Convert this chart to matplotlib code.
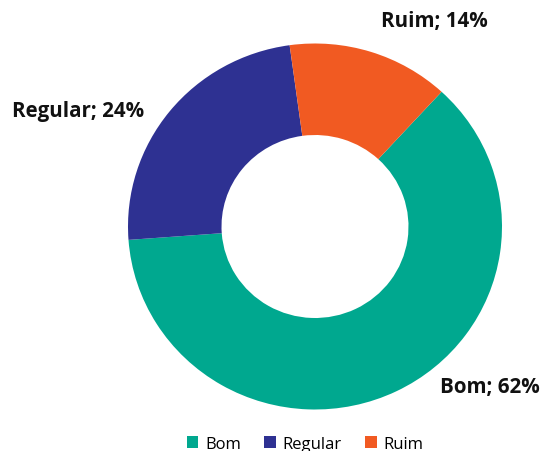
import matplotlib.pyplot as plt
from matplotlib.patches import Patch

categories = ["Bom", "Regular", "Ruim"]
shares = [62, 24, 14]
colors = ["#00A88F", "#2E3192", "#F15A22"]

plt.rcParams['font.family'] = ['Open Sans', 'DejaVu Sans']

W, H = 541, 452
fig = plt.figure(figsize=(W / 100, H / 100), dpi=100)

# donut placed by pixel centre / radius
cx, cy, rx, ry = 315, 227.5, 187, 183
ax = fig.add_axes([(cx - rx) / W, (H - cy - ry) / H, 2 * rx / W, 2 * ry / H])
ax.pie(shares, colors=colors, startangle=47.4, counterclock=False,
       radius=1, wedgeprops=dict(width=0.5, edgecolor="none"))
ax.set_aspect('auto')
ax.set_xlim(-1, 1)
ax.set_ylim(-1, 1)
ax.axis('off')

label_pos = {"Bom": (490, 387), "Regular": (78, 111), "Ruim": (434, 22)}
for name, val in zip(categories, shares):
    x, y = label_pos[name]
    fig.text(x / W, 1 - y / H, f"{name}; {val}%", ha="center", va="center",
             fontsize=14.8, fontweight="bold", color="#111111")

handles = [Patch(facecolor=c, edgecolor="none") for c in colors]
fig.legend(handles, categories, loc="center", bbox_to_anchor=(305 / W, 1 - 445 / H),
           ncol=3, frameon=False, fontsize=12, handlelength=0.7, handleheight=0.7,
           columnspacing=1.4, handletextpad=0.4)

fig.savefig("out.png", dpi=100)
